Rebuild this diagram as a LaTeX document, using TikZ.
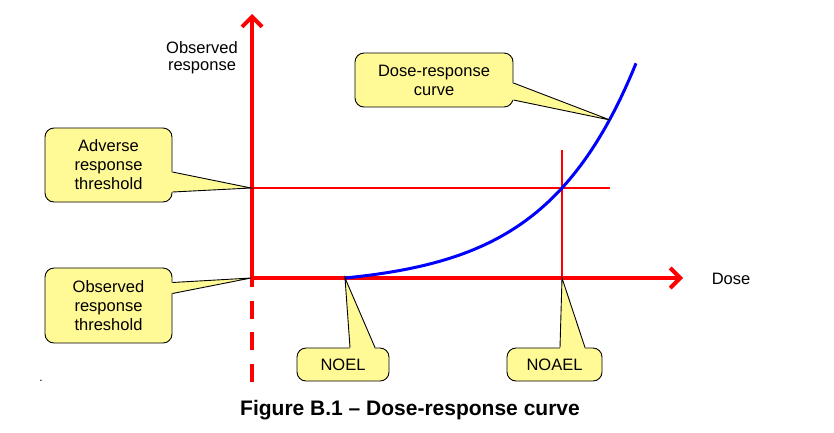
\documentclass[tikz,border=0pt]{standalone}
\usepackage{fontspec}
\setmainfont{Liberation Sans}
\usetikzlibrary{arrows.meta,calc}
\definecolor{calloutyellow}{RGB}{255,250,150}
\tikzset{
	callbox/.style={draw=black, line width=0.9pt, fill=calloutyellow, rounded corners=9pt, align=center, inner sep=0pt, font=\fontsize{16.5}{19}\selectfont},
	axis/.style={red, line width=4pt},
	level/.style={red, line width=1.3pt},
	dosecurve/.style={blue, line width=3pt},
}
% pointer of a callout: base point, tip, base point, inward shift
\def\pointer(#1)(#2)(#3)(#4){\fill[calloutyellow] ($(#1)+(#4)$) -- (#2) -- ($(#3)+(#4)$) -- cycle;
	\draw[line width=0.9pt] (#1) -- (#2) -- (#3);}

\begin{document}
\begin{tikzpicture}[x=1pt, y=-1pt]
			%%%%% START %%%%%
			\useasboundingbox (0, 0) rectangle (834, 432);
			
			\coordinate (origin) at (252, 278);
			\coordinate (xend) at (683, 278);
			\coordinate (yend) at (252, 14);
			\coordinate (ybottom) at (252, 382);
			\coordinate (adverse) at (252, 188);
			\coordinate (adverseend) at (610, 188);
			\coordinate (noel) at (345, 278);
			\coordinate (noael) at (562, 278);
			\coordinate (noaeltop) at (562, 150);
			\coordinate (curvept) at (610, 120);
			
			\draw[level] (adverse) -- (adverseend);
			\draw[level] (noael) -- (noaeltop);
			
			\draw[axis, dash pattern=on 18pt off 13.5pt, dash phase=9pt] (origin) -- (ybottom);
			\draw[axis, -{Straight Barb[length=10pt, width=20pt]}] (origin) -- (xend);
			\draw[axis, -{Straight Barb[length=10pt, width=20pt]}] (origin) -- (yend);
			
			\draw[dosecurve] plot[domain=345:636, samples=80] (\x, {278-9.11*(exp(0.011*(\x-345))-1)});
			
			\node[font=\fontsize{16.5}{17}\selectfont, align=center] (ylabel) at (202, 58) {Observed\\response};
			\node[font=\fontsize{16.5}{19}\selectfont] (xlabel) at (731, 279) {Dose};
			
			\node[callbox, minimum width=127, minimum height=74] (adv) at (108.5, 165) {Adverse\\response\\threshold};
			\pointer($(adv.east)+(0, 7)$)($(adverse)+(-1, 0)$)($(adv.east)+(0, 27)$)(-2, 0)
			
			\node[callbox, minimum width=127, minimum height=75] (obs) at (108.5, 305.5) {Observed\\response\\threshold};
			\pointer($(obs.east)+(0, -23)$)($(origin)+(-1, 0)$)($(obs.east)+(0, -12)$)(-2, 0)
			
			\node[callbox, minimum width=92, minimum height=33] (noelbox) at (343, 364.5) {NOEL};
			\pointer($(noelbox.north)+(7, 0)$)(noel)($(noelbox.north)+(32, 0)$)(0, 2)
			
			\node[callbox, minimum width=95, minimum height=33] (noaelbox) at (554.5, 364.5) {NOAEL};
			\pointer($(noaelbox.north)+(5.5, 0)$)(noael)($(noaelbox.north)+(30.5, 0)$)(0, 2)
			
			\node[callbox, minimum width=158, minimum height=54] (drc) at (434, 80) {Dose-response\\curve};
			\pointer($(drc.east)+(0, 3)$)(curvept)($(drc.east)+(0, 20)$)(-2, 0)
			
			\node[font=\bfseries\fontsize{21}{24}\selectfont] (caption) at (410, 410) {Figure B.1 -- Dose-response curve};
			\node[font=\fontsize{12}{14}\selectfont] (stray) at (41, 381) {.};
			%%%%% END %%%%%
\end{tikzpicture}
\end{document}
